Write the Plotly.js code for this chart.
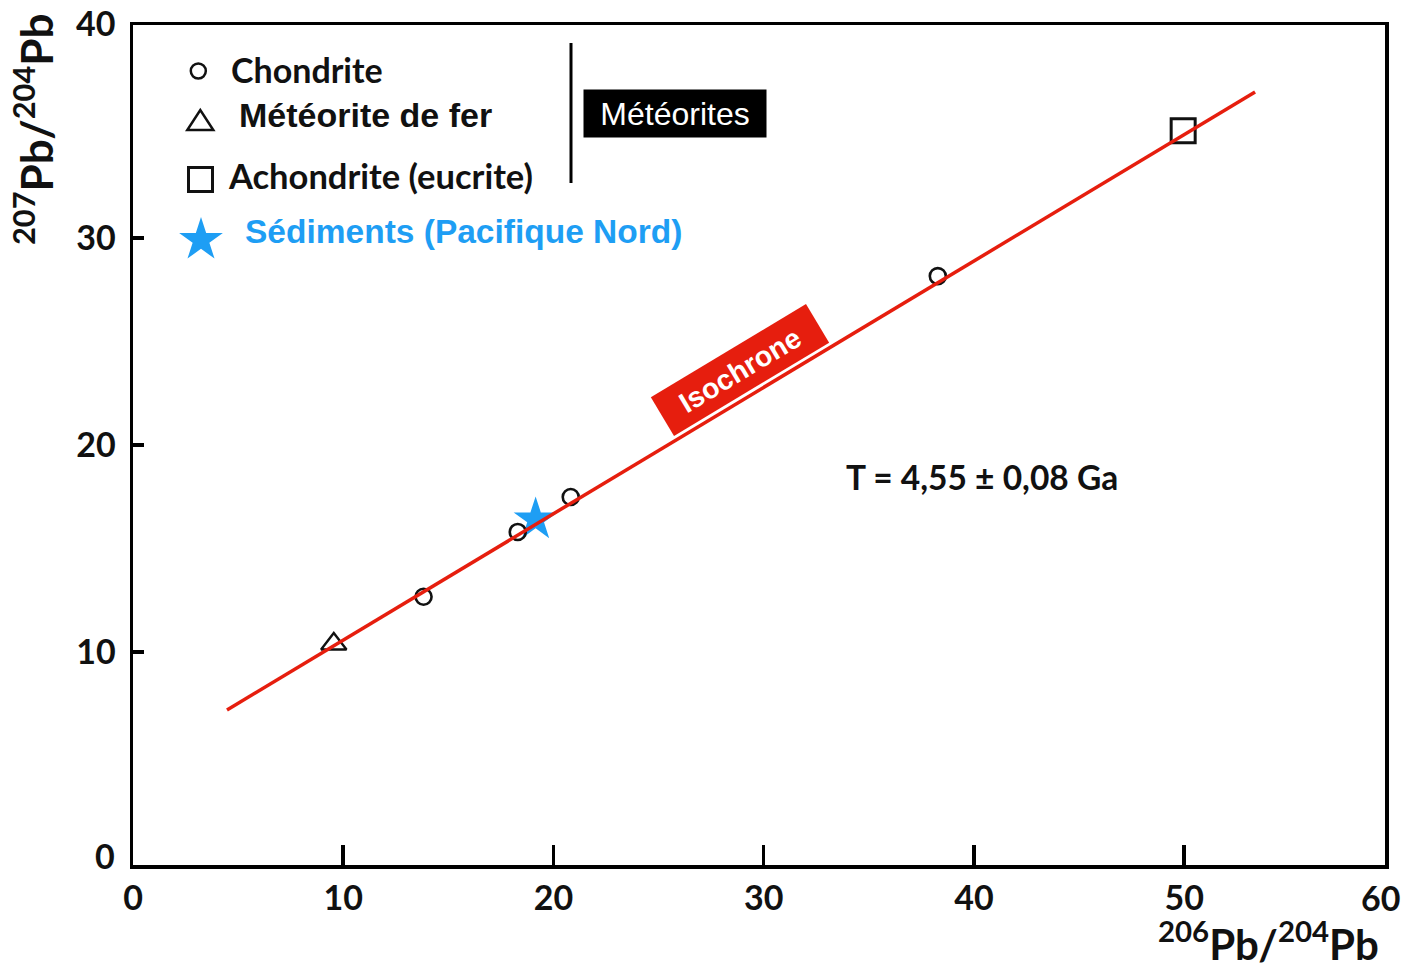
<!DOCTYPE html>
<html>
<head>
<meta charset="utf-8">
<script src="https://cdn.plot.ly/plotly-3.0.1.min.js"></script>
<style>html,body{margin:0;padding:0;background:#fff;}#chart{width:1419px;height:970px;}</style>
</head>
<body>
<div id="chart"></div>
<script>
// ---- Data ----
const chondriteX = [13.82, 18.3, 20.82, 38.28];
const chondriteY = [12.67, 15.8, 17.49, 28.16];
const ironX = [9.55];
const ironY = [10.39];
const eucriteX = [49.95];
const eucriteY = [35.18];
const sedimentX = [19.15];
const sedimentY = [16.4];
const isochroneX = [4.47, 53.37];
const isochroneY = [7.2, 37.05];
const xTickVals = [0, 10, 20, 30, 40, 50];
const yTickVals = [10, 20, 30];

const legendLabels = ["Chondrite", "Météorite de fer", "Achondrite (eucrite)", "Sédiments (Pacifique Nord)"];
const groupLabel = "Météorites";
const isochroneLabel = "Isochrone";
const ageLabel = "T = 4,55 ± 0,08 Ga";
const xTitle = "<sup>206</sup>Pb/<sup>204</sup>Pb";
const yTitle = "<sup>207</sup>Pb/<sup>204</sup>Pb";

// ---- Layout geometry ----
const W = 1419, H = 970;
const M = {l: 133, r: 34, t: 25, b: 105};
const PW = W - M.l - M.r, PH = H - M.t - M.b;
const px = p => (p - M.l) / PW;
const py = p => (H - M.b - p) / PH;

const BLUE = '#1E9EF4';
const RED = '#E61E0E';
const CAL = 'Lato';
const ARIAL = 'Liberation Sans';
const TICKSIZE = 34;

function starPath(R) {
  const r = R * 0.382; let d = '';
  for (let k = 0; k < 10; k++) {
    const a = (-90 + k * 36) * Math.PI / 180;
    const rr = k % 2 === 0 ? R : r;
    d += (k === 0 ? 'M' : 'L') + (rr * Math.cos(a)).toFixed(2) + ',' + (-rr * Math.sin(a)).toFixed(2);
  }
  return d + 'Z';
}

const traces = [
  {x: sedimentX, y: sedimentY, type: 'scatter', mode: 'markers', name: legendLabels[3],
   marker: {symbol: 'star', size: 33, color: BLUE, line: {width: 0}}},
  {x: chondriteX, y: chondriteY, type: 'scatter', mode: 'markers', name: legendLabels[0],
   marker: {symbol: 'circle-open', size: 16, color: '#111', line: {width: 2.6, color: '#111'}}},
  {x: ironX, y: ironY, type: 'scatter', mode: 'markers', name: legendLabels[1],
   marker: {symbol: 'triangle-up-open', size: 22, color: '#111', line: {width: 2.4, color: '#111'}}},
  {x: eucriteX, y: eucriteY, type: 'scatter', mode: 'markers', name: legendLabels[2],
   marker: {symbol: 'square-open', size: 24, color: '#111', line: {width: 3, color: '#111'}}},
  {x: isochroneX, y: isochroneY, type: 'scatter', mode: 'lines', name: isochroneLabel,
   line: {color: RED, width: 3.5}}
];

const ann = (o) => Object.assign({xref: 'paper', yref: 'paper', showarrow: false}, o);

const annotations = [
  ann({x: px(229), y: py(69), xanchor: 'left', yanchor: 'middle', text: legendLabels[0],
       font: {family: CAL, size: 34, weight: 700, color: '#111'}}),
  ann({x: px(237), y: py(115), xanchor: 'left', yanchor: 'middle', text: legendLabels[1],
       font: {family: ARIAL, size: 34, weight: 700, color: '#111'}}),
  ann({x: px(226), y: py(175), xanchor: 'left', yanchor: 'middle', text: legendLabels[2],
       font: {family: CAL, size: 34.5, weight: 700, color: '#111'}}),
  ann({x: px(243), y: py(231), xanchor: 'left', yanchor: 'middle', text: legendLabels[3],
       font: {family: ARIAL, size: 33.5, weight: 700, color: BLUE}}),
  ann({x: px(675), y: py(113.5), xanchor: 'center', yanchor: 'middle', text: groupLabel,
       bgcolor: '#000', width: 180, height: 45, borderpad: 1,
       font: {family: ARIAL, size: 32, color: '#fff'}}),
  ann({x: px(740), y: py(370), xanchor: 'center', yanchor: 'middle', text: isochroneLabel,
       textangle: -31, bgcolor: RED, width: 178, height: 42, borderpad: 1,
       font: {family: ARIAL, size: 28.5, weight: 700, color: '#fff'}}),
  ann({x: px(982), y: py(477), xanchor: 'center', yanchor: 'middle', text: ageLabel,
       font: {family: CAL, size: 33.5, weight: 700, color: '#111'}}),
  ann({x: px(33), y: py(130), xanchor: 'center', yanchor: 'middle', text: yTitle, textangle: -90,
       font: {family: CAL, size: 44, weight: 700, color: '#111'}}),
  ann({x: px(1381), y: py(941), xanchor: 'right', yanchor: 'middle', text: xTitle,
       font: {family: CAL, size: 42, weight: 700, color: '#111'}}),
  ann({x: px(117), y: py(22), xanchor: 'right', yanchor: 'middle', text: '40',
       font: {family: CAL, size: TICKSIZE, weight: 700, color: '#111'}}),
  ann({x: px(117), y: py(855), xanchor: 'right', yanchor: 'middle', text: '0',
       font: {family: CAL, size: TICKSIZE, weight: 700, color: '#111'}}),
  ann({x: px(1380), y: py(897), xanchor: 'center', yanchor: 'middle', text: '60',
       font: {family: CAL, size: TICKSIZE, weight: 700, color: '#111'}})
];

const pixShape = (cx, cy, o) => Object.assign({
  xref: 'paper', yref: 'paper', xsizemode: 'pixel', ysizemode: 'pixel',
  xanchor: px(cx), yanchor: py(cy), layer: 'above'}, o);

const shapes = [
  // legend symbols
  pixShape(198.3, 71, {type: 'circle', x0: -7.5, x1: 7.5, y0: -7.5, y1: 7.5,
    line: {color: '#111', width: 2.5}}),
  pixShape(200.3, 120, {type: 'path', path: 'M-13,-10L13,-10L0,10Z', line: {color: '#111', width: 2.5}}),
  pixShape(200.5, 179.5, {type: 'rect', x0: -12, x1: 12, y0: -12, y1: 12, line: {color: '#111', width: 3}}),
  pixShape(201, 240, {type: 'path', path: starPath(23), fillcolor: BLUE, line: {width: 0}}),
  // bracket line
  {type: 'line', xref: 'paper', yref: 'paper', x0: px(571), x1: px(571), y0: py(43), y1: py(183),
   line: {color: '#000', width: 3}}
];

const axisCommon = {
  showgrid: false, zeroline: false, showline: true, linecolor: '#000', linewidth: 3.5,
  mirror: true, ticks: 'inside', tickcolor: '#000', tickwidth: 3.5, tickmode: 'array',
  tickfont: {family: CAL, size: TICKSIZE, weight: 700, color: '#111'}, fixedrange: true
};

const layout = {
  width: W, height: H, margin: M, showlegend: false,
  paper_bgcolor: '#fff', plot_bgcolor: '#fff',
  xaxis: Object.assign({}, axisCommon, {range: [0, 59.55], tickvals: xTickVals, ticklen: 20,
    ticklabelstandoff: 1}),
  yaxis: Object.assign({}, axisCommon, {range: [-0.29, 40.29], tickvals: yTickVals, ticklen: 11,
    ticklabelstandoff: 7}),
  annotations: annotations, shapes: shapes
};

Plotly.newPlot('chart', traces, layout, {displayModeBar: false, staticPlot: true});
</script>
</body>
</html>
